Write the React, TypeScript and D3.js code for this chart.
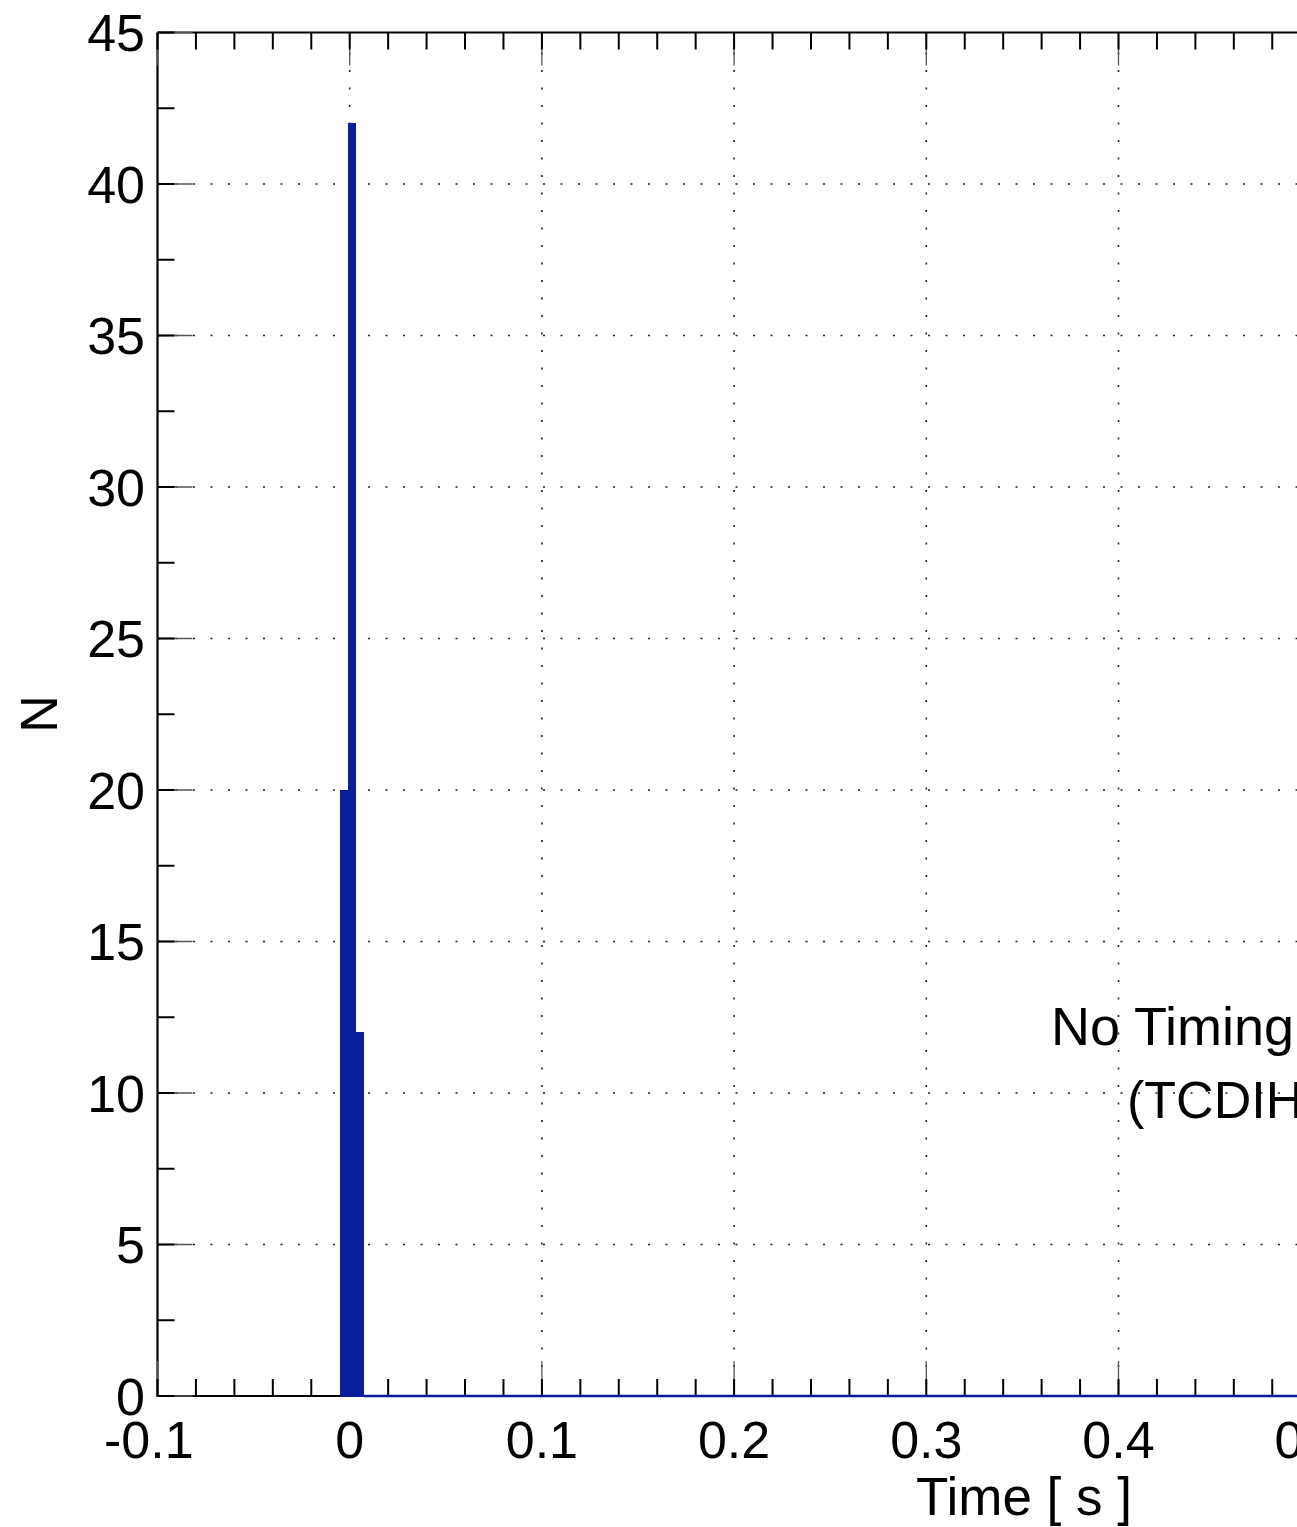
import React from "react";
import * as d3 from "d3";

// ---- data ----
const binEdges: number[] = [-0.0053, -0.0011, 0.0031, 0.0073];
const binCounts: number[] = [20, 42, 12];
const xMajorTicks: number[] = [-0.1, 0, 0.1, 0.2, 0.3, 0.4, 0.5, 0.6];
const yMajorTicks: number[] = [0, 5, 10, 15, 20, 25, 30, 35, 40, 45];
const xTitle = "Time [ s ]";
const yTitle = "N";
const noteLines: string[] = ["No Timing", "(TCDIH"];

const W = 1297;
const H = 1527;
const FONT = "'Liberation Sans', Arial, Helvetica, sans-serif";
const FS = 52;
const BAR = "#0a1e9b";

export default function App() {
  const left = 157.5;
  const top = 32.5;
  const bottom = 1396;
  const pxPerTenth = 192.2;
  const x = d3
    .scaleLinear()
    .domain([-0.1, 0.6])
    .range([left, left + 7 * pxPerTenth]);
  const y = d3.scaleLinear().domain([0, 45]).range([bottom, top]);
  const right = x(0.6);

  const xMinor = d3.range(-0.1, 0.6001, 0.02).map((v) => +v.toFixed(3));
  const yMinor = d3.range(0, 45.001, 2.5);

  const bins = binCounts.map((c, i) => ({ x0: binEdges[i], x1: binEdges[i + 1], c }));

  const minorLen = 17;
  const majorLen = 35;

  const fmtX = (v: number) => (v === 0 ? "0" : d3.format(".1f")(v).replace("−", "-"));

  return (
    <svg
      width={W}
      height={H}
      style={{ position: "absolute", left: 0, top: 0, background: "#fff" }}
      fontFamily={FONT}
    >
      <rect x={0} y={0} width={W} height={H} fill="#fff" />
      {/* grid */}
      {yMajorTicks
        .filter((v) => v > 0 && v < 45)
        .map((v) => (
          <line
            key={"gy" + v}
            x1={left}
            x2={right}
            y1={y(v)}
            y2={y(v)}
            stroke="#222"
            strokeWidth={1.6}
            strokeDasharray="2 15.5"
            strokeDashoffset={-0.5}
          />
        ))}
      {xMajorTicks
        .filter((v) => v > -0.1)
        .map((v) => (
          <line
            key={"gx" + v}
            x1={x(v)}
            x2={x(v)}
            y1={top}
            y2={bottom}
            stroke="#222"
            strokeWidth={1.6}
            strokeDasharray="2 15.5"
            strokeDashoffset={-2.5}
          />
        ))}

      {/* frame */}
      <line x1={left} x2={right} y1={top} y2={top} stroke="#000" strokeWidth={2.2} />
      <line x1={left} x2={left} y1={top} y2={bottom} stroke="#000" strokeWidth={2.2} />
      <line x1={left - 1} x2={right} y1={bottom} y2={bottom} stroke="#000" strokeWidth={2.2} />

      {/* x ticks (bottom & top) */}
      {xMinor.map((v) => {
        const isMajor = xMajorTicks.some((m) => Math.abs(m - v) < 1e-6);
        return (
          <g key={"xt" + v}>
            {isMajor && (
              <>
                <line x1={x(v)} x2={x(v)} y1={bottom} y2={bottom - majorLen} stroke="#555" strokeWidth={1.3} />
                <line x1={x(v)} x2={x(v)} y1={top} y2={top + majorLen - 2} stroke="#555" strokeWidth={1.3} />
              </>
            )}
            <line x1={x(v)} x2={x(v)} y1={bottom} y2={bottom - minorLen} stroke="#000" strokeWidth={2} />
            <line x1={x(v)} x2={x(v)} y1={top} y2={top + minorLen} stroke="#000" strokeWidth={2} />
          </g>
        );
      })}

      {/* y ticks */}
      {yMinor.map((v) => {
        const isMajor = yMajorTicks.includes(v);
        return (
          <g key={"yt" + v}>
            {isMajor && (
              <line x1={left} x2={left + majorLen} y1={y(v)} y2={y(v)} stroke="#555" strokeWidth={1.3} />
            )}
            <line x1={left} x2={left + minorLen} y1={y(v)} y2={y(v)} stroke="#000" strokeWidth={2} />
          </g>
        );
      })}

      {/* histogram bars */}
      {bins.map((b, i) => (
        <rect
          key={"b" + i}
          x={Math.round(x(b.x0))}
          y={Math.round(y(b.c))}
          width={Math.round(x(b.x1)) - Math.round(x(b.x0))}
          height={Math.round(y(0)) - Math.round(y(b.c)) + 1}
          fill={BAR}
          shapeRendering="crispEdges"
        />
      ))}
      <line
        x1={x(binEdges[binEdges.length - 1])}
        x2={right}
        y1={y(0)}
        y2={y(0)}
        stroke={BAR}
        strokeWidth={2.4}
      />

      {/* y tick labels */}
      {yMajorTicks.map((v) => (
        <text
          key={"yl" + v}
          x={145}
          y={y(v) + FS * 0.358}
          textAnchor="end"
          fontSize={FS}
          fill="#000"
        >
          {String(v)}
        </text>
      ))}

      {/* x tick labels */}
      {xMajorTicks.map((v) => (
        <text
          key={"xl" + v}
          x={x(v)}
          dx={v < 0 ? -FS * 0.333 * 0.5 : 0}
          y={bottom + 62}
          textAnchor="middle"
          fontSize={FS}
          fill="#000"
        >
          {fmtX(v)}
        </text>
      ))}

      {/* axis titles */}
      <text x={1132} y={1515} textAnchor="end" fontSize={53} fill="#000">
        {xTitle}
      </text>
      <text
        transform={`translate(56.5, 714) rotate(-90)`}
        textAnchor="middle"
        fontSize={FS}
        fill="#000"
      >
        {yTitle}
      </text>

      {/* note */}
      <text x={1051} y={1045} fontSize={54} fill="#000">
        {noteLines[0]}
      </text>
      <text x={1127} y={1118} fontSize={52} fill="#000">
        {noteLines[1]}
      </text>
    </svg>
  );
}
